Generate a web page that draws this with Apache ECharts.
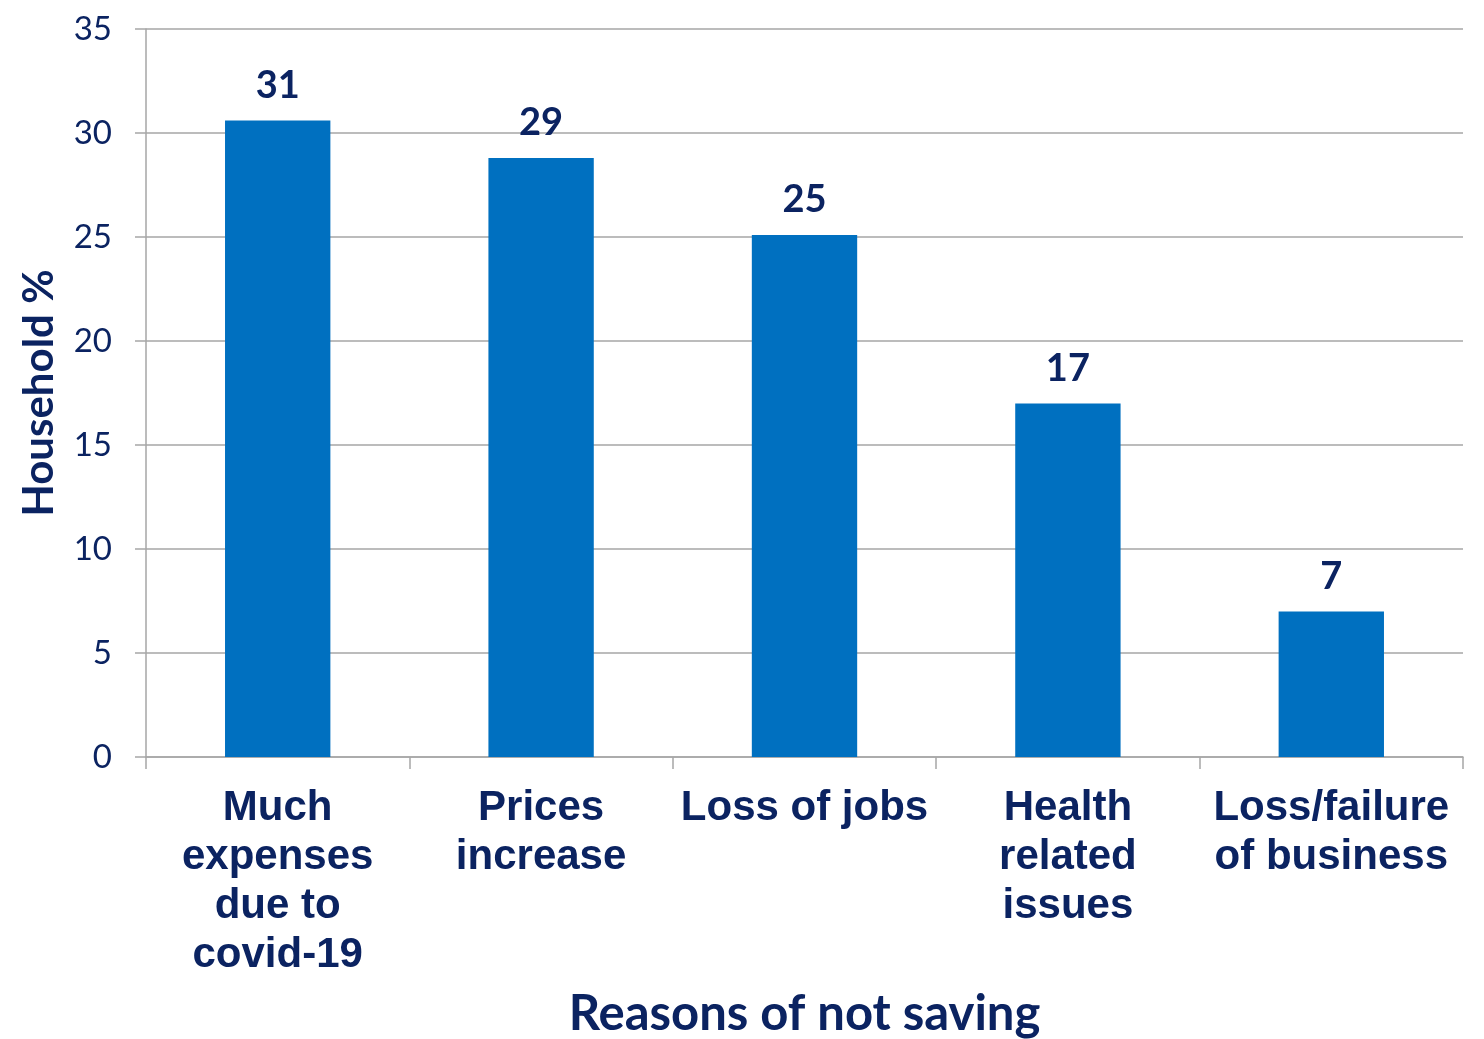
<!DOCTYPE html>
<html>
<head>
<meta charset="utf-8">
<script src="https://cdn.jsdelivr.net/npm/echarts@6/dist/echarts.min.js"></script>
<style>
  html, body { margin: 0; padding: 0; background: #ffffff; }
  #chart { width: 1484px; height: 1039px; }
</style>
</head>
<body>
<div id="chart"></div>
<script>
// Reasons households gave for not saving (share of households, %)
const categories = [
  'Much\nexpenses\ndue to\ncovid-19',
  'Prices\nincrease',
  'Loss of jobs',
  'Health\nrelated\nissues',
  'Loss/failure\nof business'
];
const householdPct = [30.6, 28.8, 25.1, 17.0, 7.0];
const yTicks = { min: 0, max: 35, interval: 5 };

const navy = '#0b2361';
const gridGray = '#a6a6a6';
const barBlue = '#0070c0';

const chart = echarts.init(document.getElementById('chart'), null, { renderer: 'canvas' });

chart.setOption({
  animation: false,
  backgroundColor: '#ffffff',
  grid: {
    left: 146, right: 21, top: 29, bottom: 282,
    containLabel: false,
    outerBoundsMode: 'none'
  },
  xAxis: {
    type: 'category',
    data: categories,
    name: 'Reasons of not saving',
    nameLocation: 'middle',
    nameGap: 233,
    nameTextStyle: { color: navy, fontFamily: 'Lato', fontWeight: 'bold', fontSize: 49 },
    axisLine: { show: true, lineStyle: { color: gridGray, width: 1.5 } },
    axisTick: { show: true, length: 12, lineStyle: { color: gridGray, width: 1.5 } },
    axisLabel: {
      color: navy,
      fontFamily: 'Liberation Sans, Arial',
      fontWeight: 'bold',
      fontSize: 42,
      lineHeight: 49,
      margin: 27,
      interval: 0
    },
    splitLine: { show: false }
  },
  yAxis: {
    type: 'value',
    min: yTicks.min,
    max: yTicks.max,
    interval: yTicks.interval,
    name: 'Household %',
    nameLocation: 'middle',
    nameGap: 86,
    nameRotate: 90,
    nameTextStyle: { color: navy, fontFamily: 'Lato', fontWeight: 'bold', fontSize: 42 },
    axisLine: { show: true, lineStyle: { color: gridGray, width: 1.5 } },
    axisTick: { show: true, length: 11, lineStyle: { color: gridGray, width: 1.5 } },
    axisLabel: { color: navy, fontFamily: 'Lato', fontSize: 33, margin: 34 },
    splitLine: { show: true, lineStyle: { color: gridGray, width: 1.5 } }
  },
  series: [{
    type: 'bar',
    data: householdPct,
    barWidth: '40%',
    itemStyle: { color: barBlue },
    label: {
      show: true,
      position: 'top',
      distance: 16,
      color: navy,
      fontFamily: 'Lato',
      fontWeight: 'bold',
      fontSize: 38,
      formatter: p => Math.round(p.value)
    }
  }]
});
</script>
</body>
</html>
